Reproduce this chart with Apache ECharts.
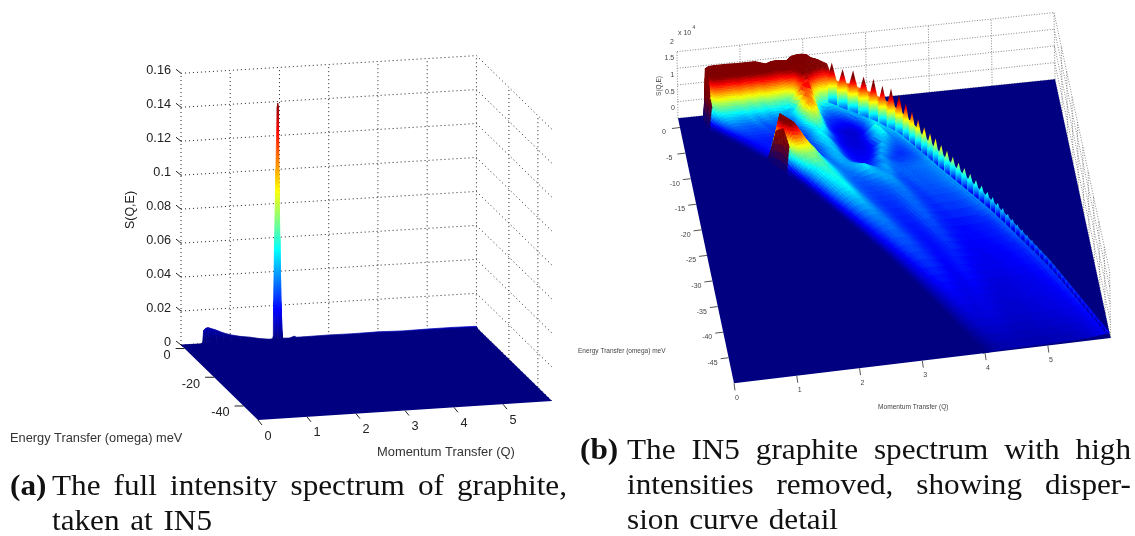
<!DOCTYPE html>
<html><head><meta charset="utf-8">
<style>html,body{margin:0;padding:0;background:#fff}#c{width:1135px;height:536px}</style>
<script src="https://cdn.jsdelivr.net/npm/echarts@6/dist/echarts.min.js"></script>
</head><body><div id="c"></div>
<script>
// ---------- panel (a) values ----------
const aProfileQ = [0,0.42,0.44,0.46,0.5,0.55,0.7,0.85,1.0,1.2,1.4,1.6,1.8,1.86,1.875,1.88,1.9,1.926,1.955,1.965,1.978,1.985,2.01,2.03,2.04,2.05,2.07,2.2,2.3,2.35,2.5,3,3.5,4,4.5,5,5.5,6];
const aProfileS = [0,0,0.001,0.0078,0.0090,0.0093,0.0077,0.0058,0.0043,0.003,0.0022,0.001,0.0003,0.0005,0.002,0.022,0.06,0.1,0.137,0.139,0.137,0.1,0.06,0.022,0.006,0.002,0.0004,0.0003,0.0012,0.0005,0.0005,0.0007,0.0006,0.0008,0.0005,0.0007,0.0008,0.0006];
const aTicksQ = [0,1,2,3,4,5];
const aTicksE = [0,-20,-40];
const aTicksS = [0,0.02,0.04,0.06,0.08,0.1,0.12,0.14,0.16];
// ---------- panel (b) values, S in units of 100 counts ----------
const bTicksQ = [0,1,2,3,4,5];
const bTicksE = [0,-5,-10,-15,-20,-25,-30,-35,-40,-45];
const bTicksS = [0,50,100,150,200];
const bTickLabelsS = ['0','0.5','1','1.5','2'];
const bRowE = [1.6,1.2,.8,.4,0,-.5,-1,-2,-3,-4,-5,-6,-7,-8,-9,-10,-11,-12,-14,-16,-18,-20,-23,-26,-29,-32,-35,-38,-41,-44,-47,-50];
const bRowQLeft = [.40,.405,.41,.42,.43,.44,.46,.57,.68,.8,.91,1.02,1.13,1.24,1.34,1.44,1.52,1.6,1.76,1.91,2.05,2.19,2.4,2.6,2.8,2.98,3.16,3.33,3.49,3.65,3.81,3.97];
const bRowQRight = [1.95,2.05,2.15,2.25,2.35,2.42,2.5,2.65,2.8,2.95,3.08,3.2,3.32,3.42,3.5,3.58,3.66,3.74,3.88,4.03,4.18,4.33,4.55,4.74,4.92,5.1,5.27,5.42,5.56,5.7,5.84,5.98];
const bColFrac = [0,.02,.05,.1,.15,.2,.25,.3,.35,.4,.45,.5,.55,.6,.65,.7,.75,.8,.85,.9,.95,1];
const bIntensity = [
[0,0,0,0,0,0,0,0,0,0,0,0,0,0,0,0,0,0,0,0,0,0],
[0,150,155,156,156,156,156,155,155,155,155,155,150,145,150,152,150,148,160,163,163,160],
[0,150,155,155,155,155,155,155,155,155,150,150,148,148,148,150,152,155,160,160,158,150],
[0,140,150,150,150,150,150,150,150,150,150,148,145,140,145,148,150,150,155,158,158,150],
[0,125,135,138,135,132,138,130,135,130,135,130,128,118,128,125,138,152,158,140,130,145],
[0,85,102,106,100,98,106,95,101,92,102,95,92,85,92,100,140,150,120,105,100,110],
[0,60,74,76,73,70,76,68,74,64,72,68,64,60,66,110,140,100,75,70,80,105],
[0,34,44,46,43,40,46,38,44,38,42,40,36,46,120,125,60,38,34,40,62,110],
[0,24,30,32,30,30,33,27,32,27,30,28,60,112,100,40,26,24,22,30,52,110],
[0,16,24,26,26,25,27,24,26,25,26,50,105,95,36,22,18,16,15,25,50,110],
[0,12,20,22,21,22,23,21,22,22,32,72,75,38,20,14,11,10,14,30,56,108],
[0,12,18,20,20,20,21,20,21,23,42,62,45,24,16,12,11,12,22,50,52,106],
[0,12,18,20,20,20,21,21,23,36,54,40,24,15,12,11,13,24,58,42,46,100],
[0,12,19,21,21,21,21,21,26,46,48,28,18,13,12,13,18,44,54,34,40,95],
[0,100,150,130,80,32,22,22,30,46,40,22,16,14,14,15,22,46,36,30,36,90],
[0,120,150,135,105,65,36,26,38,45,28,19,16,15,15,22,46,34,26,26,36,85],
[0,75,100,100,90,70,42,30,42,40,24,18,16,16,22,44,32,24,22,26,36,75],
[0,45,65,72,70,58,40,32,42,36,26,20,18,24,42,30,24,24,26,28,36,70],
[0,28,42,55,58,50,38,32,34,42,50,40,34,42,32,30,30,31,32,34,40,65],
[0,22,38,50,54,44,33,28,28,30,34,40,39,30,26,30,29,30,31,34,38,58],
[0,18,34,46,52,40,30,26,25,26,28,32,34,28,24,28,28,29,31,34,38,54],
[0,14,28,40,44,36,28,24,23,24,26,32,30,25,23,26,26,27,28,32,37,48],
[0,10,22,32,36,32,26,22,21,22,28,30,25,22,21,23,23,24,26,30,35,42],
[0,8,18,27,31,29,24,20,19,21,26,25,21,19,18,18,19,20,21,24,32,38],
[0,6,15,24,27,26,22,19,18,21,24,21,18,17,17,17,18,19,20,23,30,34],
[0,5,12,20,24,23,20,17,18,21,19,17,16,15,15,16,16,17,19,20,26,30],
[0,4,10,17,20,19,17,15,19,18,16,14,14,14,14,15,16,16,18,19,24,28],
[0,3,8,14,17,16,14,15,16,14,13,12,12,12,13,13,14,14,16,17,22,25],
[0,2,6,11,14,13,13,14,13,12,11,11,11,12,12,13,13,14,15,16,20,23],
[0,2,5,9,11,11,12,12,11,10,10,10,10,11,11,12,12,13,14,14,18,21],
[0,1,3,6,8,9,9,9,8,8,8,8,9,9,9,10,10,11,12,13,16,19],
[0,1,2,4,5,5,6,6,6,6,6,6,6,7,7,7,8,9,10,12,14,17]
];
const bEdgeE = [-0.5,-1.5,-2.5,-3.5,-4.5,-5.5,-6.5,-7.5,-8.5,-9.5,-10.5,-11.5,-12.5,-13.5,-14.5,-15.5,-16.5,-17.5,-18.5,-19.5,-20.5,-21.5,-22.5,-23.5,-24.5,-25.5,-26.5,-27.5,-28.5,-29.5,-30.5,-31.5,-32.5,-33.5,-34.5,-35.5,-36.5,-37.5,-38.5,-39.5,-40.5,-41.5,-42.5,-43.5,-44.5,-45.5,-46.5,-47.5,-48.5,-49.5];
const bEdgeS = [155,148,156,150,155,148,152,146,135,122,112,103,98,96,90,86,82,78,75,71,66,63,58,56,52,50,47,45,42,40,38,37,35,34,32,31,30,28,27,26,25,24,23,22,21,20,20,19,18,18];
// ---------- texts ----------
const aLabelE = 'Energy Transfer (omega) meV', aLabelQ = 'Momentum Transfer (Q)', labelS = 'S(Q,E)';

const clamp = v => Math.max(0, Math.min(1, v));
function jetRgb(v){ v = clamp(v);
  return [clamp(Math.min(4*v-1.5,-4*v+4.5)),clamp(Math.min(4*v-.5,-4*v+3.5)),clamp(Math.min(4*v+.5,-4*v+2.5))].map(c=>Math.round(c*255)); }
const css = c => 'rgb('+c.join(',')+')';
const jet = v => css(jetRgb(v));
const NAVY = jet(0);
const jetStops = []; for (let i=0;i<=16;i++) jetStops.push({offset:i/16,color:jet(i/16)});

function projector(c00,c10,c01,c11,zv,Qmax,Emax,Emin){
  return (Q,E,S)=>{ const u=Q/Qmax, v=(Emax-E)/(Emax-Emin);
    const f=i=>(1-u)*(1-v)*c00[i]+u*(1-v)*c10[i]+(1-u)*v*c01[i]+u*v*c11[i];
    return [f(0)+S*zv[0], f(1)+S*zv[1]]; };
}
const pa = projector([181,345],[476.4,327.3],[258,420],[552,401],[0,-1698],6,2.45,-49.75);
const pb = projector([678,118.3],[1055,79.3],[734,383.3],[1110.6,338],[-0.005,-0.3335],6,1.8,-50);
const A_ZMAX = 0.14, B_ZMAX = 135;

function layer(items, draw, z){
  return { type:'custom', coordinateSystem:'cartesian2d', z:z, clip:false, silent:true, animation:false, progressive:0,
    data: items.map((_,i)=>[i]),
    renderItem:(p,api)=>{ const c=pt=>api.coord(pt); return draw(items[api.value(0)],c); } };
}
const poly=(pts,fill,stroke,sw)=>({type:'polygon',shape:{points:pts},style:{fill:fill,stroke:stroke||null,lineWidth:sw||0}});
const seg=(a,b,stroke,dash,lw)=>({type:'line',shape:{x1:a[0],y1:a[1],x2:b[0],y2:b[1]},style:{stroke:stroke,lineDash:dash||null,lineWidth:lw||1,fill:null}});
const txt=(p,t,size,color,align,rot)=>({type:'text',x:p[0],y:p[1],rotation:rot||0,style:{text:t,fontFamily:'Liberation Sans',fontSize:size,fill:color,align:align||'center',verticalAlign:'middle'}});

// ------- walls
function wallLines(p,qs,es,ss,Qm,Eb,Ef,zTop,col,dash){
  const out=[];
  qs.forEach(q=>out.push([p(q,Eb,0),p(q,Eb,zTop)]));
  es.forEach(e=>out.push([p(Qm,e,0),p(Qm,e,zTop)]));
  ss.forEach(s=>{out.push([p(0,Eb,s),p(Qm,Eb,s)]);out.push([p(Qm,Eb,s),p(Qm,Ef,s)]);});
  return out.map(o=>({a:o[0],b:o[1],col:col,dash:dash}));
}
const wallsA = wallLines(pa,[0,1,2,3,4,5,6],[-20,-40],aTicksS,6,2.45,-49.75,0.16,'#222',[1,3]);
const wallsB = wallLines(pb,[0,1,2,3,4,5,6],[-5,-10,-15,-20,-25,-30,-35,-40,-45,-50],bTicksS,6,1.8,-50,200,'#888',[1,1.6]);
const wallLayerA = layer(wallsA,(w,c)=>seg(c(w.a),c(w.b),w.col,w.dash),1);
const wallLayerB = layer(wallsB,(w,c)=>seg(c(w.a),c(w.b),w.col,w.dash),1);

// ------- panel a surface
const aStrips = aProfileQ.slice(0,-1).map((q,i)=>i);
const aGradTop = pa(2,2.45,A_ZMAX)[1], aGradBot = pa(2,2.45,0)[1];
const stripA = layer(aStrips,(i,c)=>{
  const q0=aProfileQ[i],q1=aProfileQ[i+1],e=2.45;
  const pts=[pa(q0,e,aProfileS[i]),pa(q1,e,aProfileS[i+1]),pa(q1,e-1,0),pa(q0,e-1,0)].map(c);
  const grad=new echarts.graphic.LinearGradient(0,c([0,aGradBot])[1],0,c([0,aGradTop])[1],jetStops,true);
  return poly(pts,grad,grad,0.7);
},2);
const floorA = layer([0],(_,c)=>poly([pa(0,2.45,0),pa(6,2.45,0),pa(6,-49.75,0),pa(0,-49.75,0)].map(c),NAVY),3);

// ------- panel a annotation
const annoA=[];
aTicksS.forEach(s=>{const p=pa(0,2.45,s);annoA.push({k:'t',p:[p[0]-10,p[1]-3],s:String(s),size:12.7,col:'#222',al:'right'});annoA.push({k:'l',a:[p[0]-5,p[1]-4],b:p});});
aTicksE.forEach(e=>{const p=pa(0,e,0);annoA.push({k:'l',a:[p[0]-9,p[1]],b:p});annoA.push({k:'t',p:[p[0]-14,p[1]+7],s:String(e),size:12.7,col:'#222',al:'right'});});
aTicksQ.forEach(q=>{const p=pa(q,-49.75,0);annoA.push({k:'l',a:p,b:[p[0]+4,p[1]+5]});annoA.push({k:'t',p:[p[0]+10,p[1]+16],s:String(q),size:12.7,col:'#222',al:'center'});});
annoA.push({k:'t',p:[10,438],s:aLabelE,size:12.8,col:'#333',al:'left'});
annoA.push({k:'t',p:[377,452],s:aLabelQ,size:12.9,col:'#333',al:'left'});
annoA.push({k:'t',p:[131,210],s:labelS,size:12.5,col:'#222',al:'center',rot:Math.PI/2});
// ------- panel b annotation
const annoB=[];
bTicksS.forEach((s,i)=>{const p=pb(0,1.8,s);annoB.push({k:'t',p:[p[0]-3,p[1]-10],s:bTickLabelsS[i],size:7,col:'#444',al:'right'});});
bTicksE.forEach(e=>{const p=pb(0,e,0);annoB.push({k:'l',a:[p[0]-8,p[1]+1],b:p,col:'#555'});annoB.push({k:'t',p:[p[0]-16,p[1]+5],s:String(e),size:7,col:'#444',al:'center'});});
bTicksQ.forEach(q=>{const p=pb(q,-50,0);annoB.push({k:'l',a:p,b:[p[0]+1,p[1]+7],col:'#555'});annoB.push({k:'t',p:[p[0]+3,p[1]+14.5],s:String(q),size:7,col:'#444',al:'center'});});
annoB.push({k:'t',p:[578,351.5],s:aLabelE,size:6.5,col:'#444',al:'left'});
annoB.push({k:'t',p:[878,407],s:aLabelQ,size:6.6,col:'#444',al:'left'});
annoB.push({k:'t',p:[659,86],s:labelS,size:6.5,col:'#444',al:'center',rot:Math.PI/2});
annoB.push({k:'t',p:[678,33],s:'x 10',size:7,col:'#444',al:'left'});
annoB.push({k:'t',p:[692.5,28],s:'4',size:5,col:'#444',al:'left'});
const annoLayer=(list,z)=>layer(list,(a,c)=>{
  if(a.k==='l') return seg(c(a.a),c(a.b),a.col||'#222');
  return txt(c(a.p),a.s,a.size,a.col,a.al,a.rot);
},z);

// ------- panel b surface
const floorB = layer([0],(_,c)=>poly([pb(0,1.8,0),pb(6,1.8,0),pb(6,-50,0),pb(0,-50,0)].map(c),NAVY),3);
const cells=[];
for(let r=0;r<bRowE.length-1;r++) for(let k=bColFrac.length-2;k>=0;k--) cells.push([r,k]);
const meshPoint=(r,k,fr,fk)=>{
  const e=bRowE[r]+(bRowE[r+1]-bRowE[r])*fr;
  const wv=bColFrac[k]+(bColFrac[k+1]-bColFrac[k])*fk;
  const ql=bRowQLeft[r]+(bRowQLeft[r+1]-bRowQLeft[r])*fr, qr=bRowQRight[r]+(bRowQRight[r+1]-bRowQRight[r])*fr;
  const M=bIntensity;
  const s=(1-fr)*(1-fk)*M[r][k]+(1-fr)*fk*M[r][k+1]+fr*(1-fk)*M[r+1][k]+fr*fk*M[r+1][k+1];
  return {q:ql+(qr-ql)*wv,e:e,s:s};
};
const meshB = layer(cells,(cell,c)=>{
  const r=cell[0],k=cell[1],M=bIntensity;
  const vals=[M[r][k],M[r][k+1],M[r+1][k],M[r+1][k+1]];
  const top=Math.max.apply(null,vals),range=top-Math.min.apply(null,vals);
  const n=range<2?1:range<8?2:range<30?3:5;
  const kids=[];
  for(let i=0;i<n;i++) for(let j=n-1;j>=0;j--){
    const P=[meshPoint(r,k,i/n,j/n),meshPoint(r,k,i/n,(j+1)/n),meshPoint(r,k,(i+1)/n,(j+1)/n),meshPoint(r,k,(i+1)/n,j/n)];
    const avg=(P[0].s+P[1].s+P[2].s+P[3].s)/4;
    let col;
    if(k===0&&top>=80){const m=clamp(avg/B_ZMAX*1.6);col=css([Math.round(128*m),0,Math.round(128*(1-m))]);}
    else col=jet(avg/B_ZMAX);
    kids.push(poly(P.map(o=>c(pb(o.q,o.e,o.s))),col,col,0.6));
  }
  return {type:'group',children:kids};
},4);
function interpRow(arr,e){ for(let r=0;r<bRowE.length-1;r++){ if(e<=bRowE[r]&&e>=bRowE[r+1]){const f=(bRowE[r]-e)/(bRowE[r]-bRowE[r+1]);return arr[r]+(arr[r+1]-arr[r])*f;} } return arr[arr.length-1]; }
const teeth=bEdgeE.map((e,i)=>i);
const teethB = layer(teeth,(i,c)=>{
  const e=bEdgeE[i],s=bEdgeS[i],d=0.42;
  const Q=v=>interpRow(bRowQRight,v);
  const pts=[pb(Q(e+d),e+d,s*0.2),pb(Q(e+d),e+d,s*0.68),pb(Q(e),e,s),pb(Q(e-d),e-d,s*0.68),pb(Q(e-d),e-d,s*0.2)];
  const y0=c(pb(Q(e),e,0))[1],y1=c(pb(Q(e),e,B_ZMAX))[1];
  const grad=new echarts.graphic.LinearGradient(0,y0,0,y1,jetStops,true);
  return poly(pts.map(c),grad);
},5);

// ------- chart
const chart=echarts.init(document.getElementById('c'),null,{renderer:'canvas'});
// captions, justified between their measured edges
const measure=document.createElement('canvas').getContext('2d');
const capFont='30px "Liberation Serif"', capBold='bold 30px "Liberation Serif"', capScale=1.04;
const capLines=[
 {t:'(a)',x0:10,x1:47,y:487,b:1},
 {t:'The full intensity spectrum of graphite,',x0:52,x1:567,y:487},
 {t:'taken at IN5',x0:52,x1:212,y:522},
 {t:'(b)',x0:580,x1:617,y:451,b:1},
 {t:'The IN5 graphite spectrum with high',x0:627,x1:1131,y:451},
 {t:'intensities removed, showing disper-',x0:627,x1:1131,y:486},
 {t:'sion curve detail',x0:627,x1:838,y:521}
];
const capEls=[];
capLines.forEach(L=>{
  const font=L.b?capBold:capFont; measure.font=font;
  const words=L.t.split(' '),ws=words.map(w=>measure.measureText(w).width*capScale);
  const sum=ws.reduce((a,b)=>a+b,0),gap=words.length>1?(L.x1-L.x0-sum)/(words.length-1):0;
  let x=L.x0;
  words.forEach((w,i)=>{capEls.push({type:'text',x:x,y:L.y,scaleX:capScale,silent:true,style:{text:w,font:font,fill:'#111',textVerticalAlign:'middle'}});x+=ws[i]+gap;});
});
chart.setOption({
  animation:false,backgroundColor:'#fff',
  grid:{left:0,right:0,top:0,bottom:0,containLabel:false},
  xAxis:{type:'value',min:0,max:1135,show:false},
  yAxis:{type:'value',min:0,max:536,inverse:true,show:false},
  graphic:capEls,
  series:[wallLayerA,stripA,floorA,annoLayer(annoA,6),wallLayerB,floorB,meshB,teethB,annoLayer(annoB,6)]
});
</script></body></html>
